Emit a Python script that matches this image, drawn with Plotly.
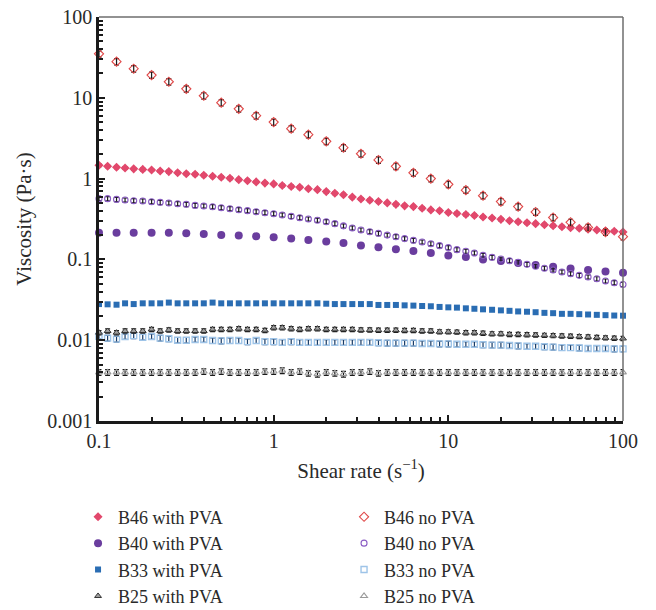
import plotly.graph_objects as go

# ---------------- data ----------------
shear_20 = [0.1, 0.112, 0.126, 0.141, 0.158, 0.178, 0.2, 0.224, 0.251, 0.282,
            0.316, 0.355, 0.398, 0.447, 0.501, 0.562, 0.631, 0.708, 0.794, 0.891,
            1.0, 1.12, 1.26, 1.41, 1.58, 1.78, 2.0, 2.24, 2.51, 2.82,
            3.16, 3.55, 3.98, 4.47, 5.01, 5.62, 6.31, 7.08, 7.94, 8.91,
            10.0, 11.2, 12.6, 14.1, 15.8, 17.8, 20.0, 22.4, 25.1, 28.2,
            31.6, 35.5, 39.8, 44.7, 50.1, 56.2, 63.1, 70.8, 79.4, 89.1, 100.0]
shear_10 = [0.1, 0.126, 0.158, 0.2, 0.251, 0.316, 0.398, 0.501, 0.631, 0.794,
            1.0, 1.26, 1.58, 2.0, 2.51, 3.16, 3.98, 5.01, 6.31, 7.94,
            10.0, 12.6, 15.8, 20.0, 25.1, 31.6, 39.8, 50.1, 63.1, 79.4, 100.0]

b46_pva = [1.46, 1.42, 1.38, 1.35, 1.32, 1.30, 1.28, 1.24, 1.22, 1.18,
           1.15, 1.13, 1.10, 1.07, 1.04, 1.01, 0.97, 0.94, 0.91, 0.88,
           0.86, 0.82, 0.80, 0.78, 0.75, 0.73, 0.69, 0.66, 0.63, 0.59,
           0.56, 0.54, 0.52, 0.50, 0.48, 0.46, 0.45, 0.43, 0.41, 0.40,
           0.38, 0.37, 0.36, 0.35, 0.335, 0.326, 0.313, 0.301, 0.293, 0.284,
           0.277, 0.269, 0.261, 0.254, 0.247, 0.243, 0.236, 0.231, 0.226, 0.223, 0.218]
b46_nopva = [35, 28, 22.9, 19.1, 15.8, 12.9, 10.6, 8.7, 7.3, 6.0,
             5.0, 4.15, 3.5, 2.89, 2.41, 2.03, 1.70, 1.42, 1.18, 1.0,
             0.85, 0.72, 0.615, 0.52, 0.45, 0.386, 0.33, 0.288, 0.249, 0.218, 0.191]
b40_pva = [0.214, 0.214, 0.214, 0.214, 0.214, 0.21, 0.206, 0.20, 0.197, 0.193,
           0.188, 0.181, 0.174, 0.166, 0.160, 0.149, 0.141, 0.134, 0.127, 0.120,
           0.112, 0.107, 0.100, 0.0955, 0.090, 0.085, 0.081, 0.077, 0.074, 0.071, 0.0685]
b40_nopva = [0.565, 0.565, 0.553, 0.543, 0.533, 0.528, 0.518, 0.508, 0.499, 0.489,
             0.480, 0.466, 0.458, 0.449, 0.436, 0.424, 0.412, 0.401, 0.389, 0.378,
             0.368, 0.355, 0.341, 0.328, 0.316, 0.305, 0.293, 0.277, 0.260, 0.245,
             0.231, 0.220, 0.210, 0.200, 0.191, 0.181, 0.172, 0.164, 0.156, 0.148,
             0.140, 0.132, 0.126, 0.120, 0.112, 0.106, 0.101, 0.0964, 0.092, 0.0869,
             0.0822, 0.0776, 0.0740, 0.0699, 0.0666, 0.0635, 0.0605, 0.0575, 0.054, 0.0515, 0.049]
b33_pva = [0.0280, 0.0278, 0.0275, 0.0286, 0.0280, 0.0286, 0.0286, 0.0286, 0.0292, 0.0286,
           0.0286, 0.0286, 0.0286, 0.0292, 0.0286, 0.0286, 0.0286, 0.0286, 0.0286, 0.0286,
           0.0286, 0.0286, 0.0286, 0.0286, 0.0286, 0.0286, 0.0283, 0.0280, 0.0280, 0.0280,
           0.0280, 0.0280, 0.0273, 0.0273, 0.0273, 0.0270, 0.0268, 0.0265, 0.0263, 0.0258,
           0.0255, 0.0253, 0.0248, 0.0245, 0.0241, 0.0238, 0.0234, 0.0231, 0.0227, 0.0225,
           0.0222, 0.0218, 0.0216, 0.0212, 0.0212, 0.0210, 0.0208, 0.0206, 0.0204, 0.0202, 0.0201]
b33_nopva = [0.0112, 0.0106, 0.0103, 0.0111, 0.0114, 0.0109, 0.0111, 0.0106, 0.0104, 0.0100,
             0.0100, 0.0102, 0.0102, 0.0099, 0.0098, 0.0099, 0.0099, 0.0096, 0.0099, 0.0096,
             0.0096, 0.0094, 0.0096, 0.0094, 0.0094, 0.0094, 0.0094, 0.0094, 0.0094, 0.0094,
             0.0094, 0.0094, 0.0093, 0.0092, 0.0092, 0.0092, 0.0092, 0.0091, 0.0091, 0.0090,
             0.0090, 0.0089, 0.0089, 0.0089, 0.0088, 0.0087, 0.0087, 0.0086, 0.0085, 0.0084,
             0.0084, 0.0083, 0.0082, 0.0081, 0.0081, 0.0080, 0.0079, 0.0079, 0.0079, 0.0078, 0.0078]
b25_pva = [0.0124, 0.0130, 0.0124, 0.0130, 0.0130, 0.0130, 0.0136, 0.0130, 0.0134, 0.0130,
           0.0130, 0.0130, 0.0130, 0.0136, 0.0136, 0.0136, 0.0139, 0.0136, 0.0136, 0.0132,
           0.0143, 0.0143, 0.0139, 0.0136, 0.0139, 0.0139, 0.0136, 0.0136, 0.0136, 0.0136,
           0.0134, 0.0134, 0.0133, 0.0133, 0.0133, 0.0132, 0.0132, 0.0130, 0.0130, 0.0127,
           0.0127, 0.0126, 0.0124, 0.0124, 0.0122, 0.0120, 0.0120, 0.0118, 0.0118, 0.0117,
           0.0116, 0.0115, 0.0114, 0.0113, 0.0112, 0.0111, 0.0110, 0.0108, 0.0107, 0.0106, 0.0105]
b25_nopva = [0.0040, 0.0040, 0.0040, 0.0040, 0.0040, 0.0040, 0.0040, 0.0040, 0.0040, 0.0040,
             0.0040, 0.0040, 0.0041, 0.0040, 0.0041, 0.0040, 0.0040, 0.0040, 0.0040, 0.0041,
             0.0041, 0.0042, 0.0040, 0.0041, 0.0039, 0.0038, 0.0040, 0.0039, 0.0038, 0.0040,
             0.0040, 0.0041, 0.0039, 0.0040, 0.0040, 0.0040, 0.0040, 0.0040, 0.0040, 0.0040,
             0.0040, 0.0040, 0.0040, 0.0040, 0.0040, 0.0040, 0.0040, 0.0040, 0.0040, 0.0040,
             0.0040, 0.0040, 0.0040, 0.0040, 0.0040, 0.0040, 0.0040, 0.0040, 0.0040, 0.0040, 0.0040]

y_tick_vals = [0.001, 0.01, 0.1, 1, 10, 100]
y_tick_text = ["0.001", "0.01", "0.1", "1", "10", "100"]
x_tick_vals = [0.1, 1, 10, 100]
x_tick_text = ["0.1", "1", "10", "100"]

# ---------------- figure ----------------
FONT = "Liberation Serif"
TXT = "#2a2a2a"
ERR = "#1a1a1a"

def err(pct, color=ERR):
    return dict(type="percent", value=pct, color=color, thickness=1.2, width=2.5)

fig = go.Figure()

fig.add_trace(go.Scatter(x=shear_20, y=b46_pva, mode="markers", name="B46 with PVA",
                         marker=dict(symbol="diamond", size=7, color="#e2486c",
                                     line=dict(width=0)),
                         error_y=err(4), cliponaxis=False))
fig.add_trace(go.Scatter(x=shear_10, y=b46_nopva, mode="markers", name="B46 no PVA",
                         marker=dict(symbol="diamond-open", size=7, color="#e04848",
                                     line=dict(width=1.1)),
                         error_y=err(9), cliponaxis=False))
fig.add_trace(go.Scatter(x=shear_10, y=b40_pva, mode="markers", name="B40 with PVA",
                         marker=dict(symbol="circle", size=8, color="#6a3d9e",
                                     line=dict(width=0)),
                         cliponaxis=False))
fig.add_trace(go.Scatter(x=shear_20, y=b40_nopva, mode="markers", name="B40 no PVA",
                         marker=dict(symbol="circle-open", size=6, color="#8a5cc4",
                                     line=dict(width=1.1)),
                         error_y=err(6), cliponaxis=False))
fig.add_trace(go.Scatter(x=shear_20, y=b33_pva, mode="markers", name="B33 with PVA",
                         marker=dict(symbol="square", size=6, color="#2a6db3",
                                     line=dict(width=0)),
                         cliponaxis=False))
fig.add_trace(go.Scatter(x=shear_20, y=b33_nopva, mode="markers", name="B33 no PVA",
                         marker=dict(symbol="square-open", size=6, color="#9ec4e8",
                                     line=dict(width=1.4)),
                         error_y=err(8, "#163a66"), cliponaxis=False))
fig.add_trace(go.Scatter(x=shear_20, y=b25_pva, mode="markers", name="B25 with PVA",
                         marker=dict(symbol="triangle-up", size=6, color="#a0a0a0",
                                     line=dict(width=1, color="#333333")),
                         error_y=err(6), cliponaxis=False))
fig.add_trace(go.Scatter(x=shear_20, y=b25_nopva, mode="markers", name="B25 no PVA",
                         marker=dict(symbol="triangle-up-open", size=6, color="#9a9a9a",
                                     line=dict(width=1.1)),
                         error_y=err(8), cliponaxis=False))

axis_common = dict(
    type="log", showline=True, linecolor="#1a1a1a", linewidth=2.5, mirror=False,
    showgrid=False, zeroline=False, ticks="inside", ticklen=6, tickwidth=1.5,
    tickcolor="#1a1a1a",
    tickfont=dict(family=FONT, size=20, color=TXT),
    minor=dict(ticks="inside", ticklen=4, tickwidth=1.5, tickcolor="#1a1a1a",
               dtick="D1", showgrid=False),
)

fig.update_xaxes(**axis_common, range=[-1, 2], tickvals=x_tick_vals, ticktext=x_tick_text,
                 title=dict(text="Shear rate (s<sup>−1</sup>)", standoff=13,
                            font=dict(family=FONT, size=21, color=TXT)))
fig.update_yaxes(**axis_common, range=[-3, 2], tickvals=y_tick_vals, ticktext=y_tick_text,
                 title=dict(text="Viscosity (Pa·s)", standoff=10,
                            font=dict(family=FONT, size=21, color=TXT)))

# thin grey top and right frame lines
fig.add_shape(type="line", xref="paper", yref="paper", x0=0, x1=1, y0=1, y1=1,
              line=dict(color="#6e6e6e", width=1.5))
fig.add_shape(type="line", xref="paper", yref="paper", x0=1, x1=1, y0=0, y1=1,
              line=dict(color="#6e6e6e", width=1.5))

fig.update_layout(
    width=656, height=610,
    margin=dict(l=99, r=33, t=17, b=189, autoexpand=False),
    paper_bgcolor="white", plot_bgcolor="white",
    showlegend=True,
    legend=dict(orientation="h", x=-0.04, xanchor="left", y=-0.192, yanchor="top",
                entrywidth=221, entrywidthmode="pixels",
                font=dict(family=FONT, size=18, color=TXT),
                bgcolor="rgba(0,0,0,0)", itemwidth=30),
)

fig.write_html("out.html")
